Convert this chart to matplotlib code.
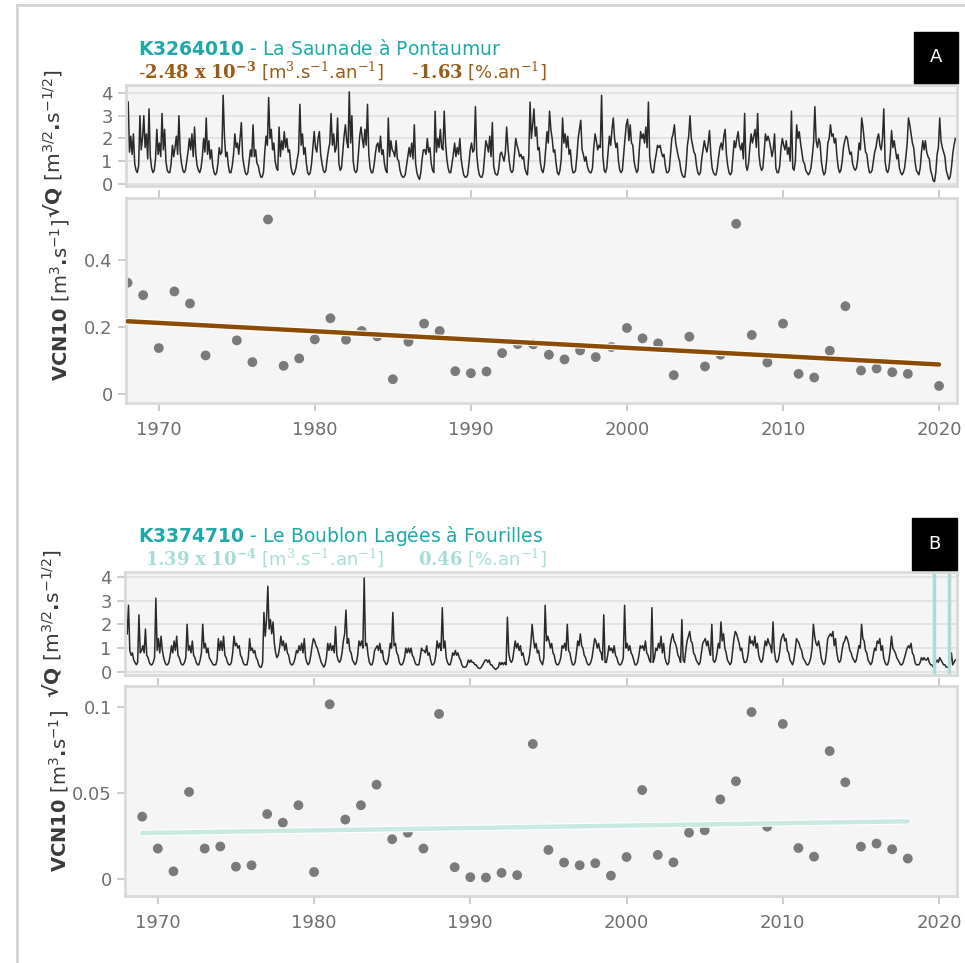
import matplotlib
matplotlib.use("Agg")
import matplotlib.pyplot as plt
from matplotlib import patheffects as pe
from matplotlib.lines import Line2D
from matplotlib.patches import Rectangle

# ---- data ----
# monthly sqrt(Q) values, one row per year from 1968 (last row = early 2021)
sqrtq_a = [
    [3.6, 1.4, 2.1, 1.3, 2.2, 0.9, 0.6, 0.5, 0.8, 3.0, 1.5, 2.0],
    [3.0, 1.6, 2.2, 1.1, 3.3, 1.2, 0.7, 0.5, 0.6, 1.1, 2.4, 1.3],
    [1.8, 1.2, 3.1, 1.5, 2.4, 1.0, 0.6, 0.5, 0.5, 0.9, 1.7, 1.2],
    [1.6, 2.1, 1.3, 3.0, 1.4, 0.9, 0.6, 0.5, 0.6, 1.0, 1.4, 2.0],
    [1.5, 2.2, 1.2, 2.5, 1.3, 0.8, 0.6, 0.5, 0.7, 1.2, 2.0, 1.4],
    [2.9, 1.3, 1.9, 1.1, 1.5, 0.8, 0.5, 0.4, 0.5, 0.9, 1.6, 1.3],
    [1.4, 3.9, 2.1, 1.2, 1.4, 0.8, 0.5, 0.5, 0.8, 1.3, 2.2, 1.6],
    [1.8, 1.3, 2.0, 2.7, 1.2, 0.8, 0.5, 0.4, 0.5, 1.0, 1.5, 1.2],
    [2.6, 1.2, 1.5, 0.9, 0.8, 0.5, 0.3, 0.3, 0.5, 1.4, 2.1, 1.7],
    [3.8, 2.0, 2.4, 1.5, 1.8, 1.0, 0.7, 0.6, 2.5, 1.2, 1.9, 1.5],
    [2.3, 1.6, 2.0, 1.4, 1.5, 0.8, 0.5, 0.4, 0.5, 0.7, 1.1, 1.4],
    [3.5, 1.7, 2.2, 1.3, 1.6, 0.9, 0.5, 0.4, 0.5, 0.9, 1.6, 2.3],
    [1.6, 1.4, 2.0, 2.3, 1.3, 0.9, 0.6, 0.5, 0.6, 1.1, 1.5, 1.8],
    [3.1, 1.7, 2.2, 1.4, 1.6, 2.9, 0.9, 0.6, 0.7, 1.4, 2.1, 2.6],
    [1.9, 1.6, 4.05, 1.8, 3.0, 1.0, 0.6, 0.5, 0.6, 1.3, 2.1, 2.5],
    [2.0, 1.6, 2.4, 1.7, 3.5, 1.3, 0.7, 0.5, 0.5, 0.8, 1.3, 1.7],
    [1.8, 1.4, 2.1, 1.3, 1.5, 0.9, 0.6, 0.5, 2.9, 1.2, 1.9, 1.5],
    [1.4, 1.2, 1.9, 1.1, 1.0, 0.6, 0.4, 0.3, 0.3, 0.4, 0.8, 1.2],
    [1.6, 1.2, 1.8, 1.1, 2.6, 0.9, 0.5, 0.3, 0.2, 0.5, 1.1, 1.5],
    [1.5, 1.3, 2.0, 1.4, 1.6, 0.9, 0.6, 0.5, 3.2, 1.4, 2.0, 1.6],
    [2.4, 1.6, 1.5, 3.2, 1.8, 1.1, 0.7, 0.5, 0.5, 0.9, 1.3, 1.8],
    [1.2, 1.6, 1.3, 2.0, 1.1, 0.7, 0.4, 0.3, 0.3, 0.4, 0.9, 1.5],
    [1.8, 1.4, 1.5, 3.4, 1.3, 0.7, 0.4, 0.3, 0.3, 0.5, 1.2, 1.9],
    [1.7, 1.4, 2.1, 1.2, 2.7, 0.8, 0.5, 0.4, 0.4, 0.7, 1.3, 1.4],
    [1.2, 1.0, 1.4, 2.5, 1.6, 1.0, 0.6, 0.5, 0.6, 1.3, 2.0, 1.7],
    [1.5, 1.2, 1.3, 1.1, 1.2, 0.7, 0.5, 0.4, 1.2, 3.6, 2.0, 2.6],
    [3.3, 2.1, 2.5, 1.5, 1.6, 0.9, 0.6, 0.5, 0.8, 1.5, 2.3, 1.8],
    [3.2, 2.4, 2.0, 1.4, 1.5, 0.9, 0.5, 0.4, 0.6, 1.1, 2.9, 1.8],
    [2.2, 1.6, 2.1, 1.3, 1.5, 0.8, 0.5, 0.5, 0.6, 1.2, 2.0, 2.4],
    [2.8, 1.5, 1.3, 1.0, 1.2, 0.8, 0.6, 0.5, 0.5, 0.7, 1.6, 2.2],
    [1.9, 1.5, 1.7, 1.6, 3.9, 1.2, 0.6, 0.5, 0.7, 1.4, 2.1, 1.7],
    [2.4, 2.9, 2.0, 1.6, 1.8, 1.0, 0.6, 0.5, 0.6, 1.3, 2.0, 2.6],
    [2.85, 1.9, 2.6, 1.8, 1.7, 1.0, 0.7, 0.5, 0.6, 1.5, 2.3, 2.0],
    [2.2, 1.8, 2.5, 1.6, 3.6, 1.2, 0.7, 0.5, 0.5, 1.0, 1.3, 1.7],
    [1.6, 1.7, 1.4, 1.2, 1.3, 0.8, 0.5, 0.5, 0.6, 1.3, 2.0, 2.2],
    [2.6, 1.8, 1.5, 1.2, 1.0, 0.6, 0.4, 0.3, 0.3, 0.8, 1.7, 2.1],
    [3.0, 2.0, 1.7, 1.4, 1.3, 0.8, 0.5, 0.4, 0.5, 1.1, 1.5, 1.9],
    [1.6, 1.4, 1.8, 2.35, 1.3, 0.7, 0.5, 0.4, 0.4, 0.7, 1.2, 1.6],
    [1.8, 1.5, 2.1, 2.4, 1.3, 0.8, 0.5, 0.4, 0.5, 1.2, 1.9, 1.6],
    [2.0, 2.3, 1.7, 1.5, 1.8, 1.1, 3.1, 0.8, 0.6, 0.9, 1.6, 2.2],
    [1.8, 2.1, 2.4, 1.6, 3.1, 1.3, 0.8, 0.6, 0.7, 1.4, 2.2, 1.9],
    [2.1, 1.9, 1.6, 1.2, 1.5, 2.2, 0.7, 0.5, 0.5, 0.8, 1.6, 2.0],
    [1.7, 1.5, 1.9, 1.3, 1.6, 1.0, 3.2, 0.7, 0.6, 1.0, 2.6, 2.0],
    [2.3, 1.8, 1.4, 1.0, 0.9, 0.6, 0.5, 0.4, 0.5, 0.7, 1.2, 1.8],
    [3.4, 1.9, 1.6, 2.0, 1.8, 1.0, 0.6, 0.4, 0.5, 1.0, 1.8, 2.0],
    [2.6, 2.1, 2.2, 1.8, 2.0, 1.2, 0.7, 0.5, 0.6, 1.0, 1.6, 1.9],
    [2.1, 2.0, 1.6, 1.3, 1.4, 0.9, 0.7, 0.6, 0.7, 1.1, 1.8, 1.5],
    [2.9, 2.5, 1.9, 1.4, 1.3, 0.8, 0.5, 0.5, 0.6, 1.0, 1.4, 1.6],
    [2.0, 2.2, 1.7, 1.5, 2.0, 3.3, 1.0, 0.6, 0.5, 0.7, 1.3, 2.35],
    [1.6, 1.9, 1.5, 1.1, 1.3, 0.7, 0.5, 0.4, 0.5, 0.7, 1.2, 1.8],
    [2.9, 2.6, 2.2, 1.8, 1.6, 1.0, 0.6, 0.5, 0.4, 0.7, 1.4, 1.9],
    [1.5, 1.9, 1.4, 1.2, 1.1, 0.6, 0.4, 0.15, 0.1, 0.5, 1.3, 1.6],
    [2.9, 1.9, 1.6, 1.4, 1.2, 0.6, 0.4, 0.2, 0.3, 0.7, 1.3, 1.7],
    [2.0],
]
sqrtq_b = [
    [1.6, 2.8, 0.9, 0.7, 0.8, 0.5, 0.4, 0.3, 0.4, 2.4, 0.8, 0.9],
    [1.1, 0.8, 1.8, 0.7, 0.6, 0.4, 0.3, 0.3, 0.4, 0.6, 3.1, 0.9],
    [1.4, 0.8, 1.5, 0.9, 0.6, 0.4, 0.3, 0.3, 0.4, 0.7, 1.1, 0.8],
    [1.3, 0.9, 1.5, 0.7, 0.6, 0.4, 0.3, 0.3, 0.4, 0.6, 2.0, 0.9],
    [1.1, 0.8, 1.3, 0.7, 0.6, 0.4, 0.3, 0.3, 0.5, 0.8, 2.0, 1.0],
    [1.2, 0.8, 1.0, 0.6, 0.5, 0.4, 0.3, 0.3, 0.3, 0.5, 1.4, 0.9],
    [1.3, 0.9, 1.5, 0.7, 0.6, 0.4, 0.3, 0.3, 0.4, 0.8, 1.5, 1.1],
    [1.2, 1.0, 1.1, 0.7, 0.6, 0.4, 0.3, 0.3, 0.3, 0.6, 1.4, 0.9],
    [1.0, 0.8, 0.9, 0.6, 0.5, 0.3, 0.2, 0.2, 0.4, 2.5, 1.5, 2.2],
    [3.6, 1.8, 2.2, 1.6, 2.1, 1.2, 0.8, 0.6, 0.7, 1.0, 1.5, 1.1],
    [1.3, 0.9, 1.2, 0.8, 0.7, 0.4, 0.3, 0.3, 0.4, 0.6, 0.9, 0.8],
    [1.1, 0.9, 1.2, 0.8, 1.4, 0.6, 0.4, 0.3, 0.4, 0.7, 1.1, 1.4],
    [1.3, 1.1, 1.0, 0.8, 0.6, 0.4, 0.3, 0.2, 0.3, 0.6, 1.2, 0.9],
    [1.2, 0.9, 1.1, 0.8, 1.9, 0.7, 0.5, 0.4, 0.5, 0.8, 1.3, 1.6],
    [2.6, 1.2, 1.4, 0.9, 0.8, 0.5, 0.4, 0.3, 0.4, 0.7, 1.3, 1.1],
    [1.3, 1.0, 3.95, 1.1, 1.2, 0.7, 0.4, 0.3, 0.3, 0.5, 0.9, 1.0],
    [1.1, 0.9, 1.2, 0.8, 0.9, 0.5, 0.4, 0.3, 0.4, 0.7, 1.2, 1.0],
    [2.5, 1.1, 1.2, 0.8, 0.7, 0.4, 0.3, 0.3, 0.4, 0.6, 1.0, 0.8],
    [1.0, 0.8, 1.0, 0.7, 0.6, 0.4, 0.3, 0.3, 0.3, 0.6, 1.0, 0.9],
    [0.9, 0.8, 1.1, 0.7, 0.8, 0.5, 0.3, 0.3, 0.4, 0.7, 1.3, 1.0],
    [1.2, 0.9, 2.7, 1.0, 1.3, 0.6, 0.4, 0.3, 0.3, 0.5, 0.8, 0.7],
    [0.9, 0.7, 0.8, 0.6, 0.5, 0.3, 0.2, 0.2, 0.2, 0.3, 0.5, 0.4],
    [0.5, 0.4, 0.4, 0.3, 0.3, 0.2, 0.15, 0.15, 0.2, 0.3, 0.4, 0.5],
    [0.5, 0.4, 0.5, 0.3, 0.3, 0.2, 0.15, 0.1, 0.15, 0.2, 0.4, 0.3],
    [0.4, 0.3, 0.4, 0.3, 2.3, 0.8, 0.5, 0.4, 0.5, 0.9, 1.3, 1.0],
    [1.2, 0.9, 1.1, 0.7, 0.8, 0.5, 0.3, 0.3, 0.4, 0.7, 1.2, 2.0],
    [1.4, 1.0, 1.2, 0.8, 0.9, 0.5, 0.4, 0.3, 0.6, 2.8, 1.3, 1.5],
    [1.3, 1.0, 1.2, 0.8, 0.7, 0.4, 0.3, 0.3, 0.4, 0.6, 1.1, 1.0],
    [1.2, 0.9, 2.0, 0.9, 0.8, 0.5, 0.3, 0.3, 0.4, 0.8, 1.3, 1.1],
    [1.6, 1.1, 1.0, 0.7, 0.6, 0.4, 0.3, 0.3, 0.4, 0.6, 1.0, 1.4],
    [1.3, 1.0, 1.2, 0.9, 0.8, 0.5, 2.4, 0.4, 0.4, 0.7, 1.1, 0.9],
    [1.0, 0.8, 1.1, 0.7, 0.6, 0.4, 0.3, 0.3, 0.4, 0.6, 2.8, 1.0],
    [1.2, 0.9, 1.1, 0.8, 0.7, 0.5, 0.3, 0.3, 0.4, 0.7, 1.1, 1.0],
    [1.1, 0.9, 1.3, 0.8, 0.7, 0.5, 0.4, 2.7, 0.4, 0.6, 1.0, 0.9],
    [1.2, 1.0, 1.5, 0.8, 1.2, 0.6, 0.4, 0.3, 0.4, 1.1, 1.4, 1.6],
    [1.3, 1.2, 1.0, 0.7, 0.6, 0.4, 2.2, 0.5, 0.4, 0.9, 1.3, 1.5],
    [1.7, 1.3, 1.2, 0.8, 0.7, 0.5, 0.4, 0.3, 0.4, 0.8, 1.2, 1.3],
    [1.4, 1.1, 1.3, 0.9, 0.7, 2.0, 0.5, 0.4, 0.5, 0.8, 1.2, 1.0],
    [2.1, 1.3, 1.6, 1.0, 0.8, 0.5, 0.4, 0.3, 0.4, 0.9, 1.4, 1.7],
    [1.6, 1.4, 1.2, 0.9, 1.0, 0.6, 0.4, 0.4, 0.5, 0.8, 1.5, 1.2],
    [1.3, 1.1, 1.5, 1.0, 1.2, 0.7, 0.5, 0.4, 0.5, 0.9, 1.3, 1.1],
    [1.4, 1.2, 1.1, 0.8, 2.1, 0.9, 0.5, 0.4, 0.5, 0.8, 1.3, 1.5],
    [1.6, 1.3, 1.4, 0.9, 0.8, 0.5, 0.4, 0.3, 0.5, 0.9, 1.4, 1.3],
    [1.2, 1.0, 0.9, 0.6, 0.5, 0.4, 0.3, 0.3, 0.4, 0.6, 1.0, 2.0],
    [1.5, 1.2, 1.1, 1.3, 1.0, 0.6, 0.4, 0.3, 0.4, 0.8, 1.4, 1.5],
    [1.6, 1.5, 1.7, 1.1, 1.4, 0.8, 0.5, 0.4, 0.5, 0.9, 1.2, 1.3],
    [1.5, 1.4, 1.2, 0.9, 0.8, 0.6, 0.5, 0.4, 0.5, 0.8, 1.1, 1.0],
    [2.0, 1.4, 1.3, 0.9, 0.8, 0.5, 0.4, 0.3, 0.4, 0.7, 1.0, 0.9],
    [1.3, 1.2, 1.4, 0.9, 1.1, 0.6, 0.4, 0.3, 0.3, 0.5, 0.9, 1.5],
    [1.0, 0.9, 0.8, 0.6, 0.5, 0.4, 0.3, 0.3, 0.4, 0.6, 0.8, 1.0],
    [1.1, 1.0, 1.2, 0.8, 0.7, 0.4, 0.3, 0.3, 0.3, 0.4, 0.6, 0.5],
    [0.6, 0.5, 0.5, 0.6, 0.4, 0.3, 0.3, 0.2, 0.3, 0.4, 0.5, 0.4],
    [0.6, 0.5, 0.4, 0.3, 0.3, 0.2, 0.2, 0.2, 0.3, 0.8, 0.3, 0.4],
    [0.5],
]

# VCN10 yearly values
years_a = [1968, 1969, 1970, 1971, 1972, 1973, 1975, 1976, 1977, 1978, 1979,
           1980, 1981, 1982, 1983, 1984, 1985, 1986, 1987, 1988, 1989, 1990,
           1991, 1992, 1993, 1994, 1995, 1996, 1997, 1998, 1999, 2000, 2001,
           2002, 2003, 2004, 2005, 2006, 2007, 2008, 2009, 2010, 2011, 2012,
           2013, 2014, 2015, 2016, 2017, 2018, 2020]
vcn_a = [0.332, 0.295, 0.137, 0.306, 0.27, 0.115, 0.16, 0.095, 0.521, 0.084,
         0.106, 0.163, 0.226, 0.162, 0.188, 0.172, 0.044, 0.156, 0.21, 0.188,
         0.068, 0.062, 0.067, 0.122, 0.149, 0.148, 0.117, 0.103, 0.13, 0.11,
         0.14, 0.197, 0.166, 0.151, 0.056, 0.171, 0.082, 0.117, 0.508, 0.176,
         0.094, 0.21, 0.06, 0.049, 0.129, 0.262, 0.07, 0.076, 0.065, 0.06,
         0.024]
years_b = list(range(1969, 2019))
vcn_b = [0.0363, 0.0178, 0.0046, 0.0506, 0.0178, 0.019, 0.0073, 0.0081,
         0.0378, 0.0328, 0.0429, 0.0042, 0.1014, 0.0346, 0.0429, 0.0548,
         0.0232, 0.027, 0.0178, 0.0958, 0.007, 0.0012, 0.001, 0.0037, 0.0024,
         0.0784, 0.017, 0.0097, 0.0081, 0.0093, 0.0021, 0.0129, 0.0517,
         0.0141, 0.0098, 0.027, 0.0284, 0.0463, 0.0568, 0.0969, 0.0305, 0.09,
         0.0181, 0.0131, 0.0743, 0.0562, 0.0189, 0.0207, 0.0174, 0.012]

# trend lines (end points)
trend_a_years = [1968, 2020]
trend_a_vals = [0.217, 0.088]
trend_b_years = [1969, 2018]
trend_b_vals = [0.0268, 0.0336]

# gaps marked on station B
gaps_b = [2019.7, 2020.65]

W, H = 965, 963
fig = plt.figure(figsize=(W / 100, H / 100), dpi=100)

TICK_COL = "#6e6e6e"
SPINE_COL = "#d9d9d9"
TEAL = "#1fa8a8"
BROWN = "#9b5a16"
LTEAL = "#a6ddd6"
LAB_COL = "#3a3a3a"


def rect(x0, y0, x1, y1):
    # pixel box -> figure fraction
    return [x0 / W, 1 - y1 / H, (x1 - x0) / W, (y1 - y0) / H]


def style(ax):
    ax.set_facecolor("#f5f5f5")
    for s in ax.spines.values():
        s.set_color(SPINE_COL)
        s.set_linewidth(2)
    ax.tick_params(axis="both", labelsize=13, labelcolor=TICK_COL,
                   color="#c4c4c4", width=1.2, length=6)
    ax.set_xlim(1967.9, 2021.15)


def monthly(rows):
    t, v = [], []
    for i, row in enumerate(rows):
        for m, val in enumerate(row):
            t.append(1968 + i + (m + 0.5) / 12)
            v.append(val)
    return t, v


def station(top_box, bot_box, rows, yrs, vals, tr_x, tr_y, tr_col,
            yticks, ylabels, ylim_top, ylim_bot, top_lab_y, gaps=None):
    axt = fig.add_axes(rect(*top_box))
    axb = fig.add_axes(rect(*bot_box))
    style(axt)
    style(axb)

    t, v = monthly(rows)
    axt.plot(t, v, color="#2a2a2a", lw=1.1)
    if gaps:
        for g in gaps:
            axt.axvline(g, color="#a9dcd9", lw=2.5)
    axt.set_ylim(*ylim_top)
    axt.set_yticks([0, 1, 2, 3, 4])
    axt.set_yticklabels(["0", "1", "2", "3", "4"])
    axt.yaxis.grid(True, color="#e3e3e3", lw=1.5)
    axt.set_axisbelow(True)
    axt.tick_params(axis="x", bottom=False, labelbottom=False)

    axb.scatter(yrs, vals, s=50, color="#7a7a7a", edgecolors="none", zorder=2)
    axb.plot(tr_x, tr_y, color=tr_col, lw=3.2, zorder=3,
             solid_capstyle="round",
             path_effects=[pe.withStroke(linewidth=4.8, foreground="white")])
    axb.set_ylim(*ylim_bot)
    axb.set_yticks(yticks)
    axb.set_yticklabels(ylabels)
    axb.set_xticks([1970, 1980, 1990, 2000, 2010, 2020])
    axb.tick_params(axis="x", top=True, bottom=True, pad=7)

    # rotated axis titles
    axb.text(-0.079, 0.5, r"VCN10 $\mathrm{[m^{3}}$.$\mathrm{s^{-1}]}$",
             transform=axb.transAxes, rotation=90, ha="center", va="center",
             fontsize=14, fontweight="bold", color=LAB_COL)
    axt.text(-0.088, top_lab_y, r"√Q $\mathrm{[m^{3/2}}$.$\mathrm{s^{-1/2}]}$",
             transform=axt.transAxes, rotation=90, ha="center", va="center",
             fontsize=14.5, fontweight="bold", color=LAB_COL, clip_on=False)
    return axt, axb


station((126, 85, 957, 186), (126, 198, 957, 403),
        sqrtq_a, years_a, vcn_a, trend_a_years, trend_a_vals,
        "#8c4b04", [0, 0.2, 0.4], ["0", "0.2", "0.4"],
        (-0.09, 4.35), (-0.027, 0.585), 0.42)
station((125, 572, 957, 675), (125, 686, 957, 896),
        sqrtq_b, years_b, vcn_b, trend_b_years, trend_b_vals,
        "#c7e9e2", [0, 0.05, 0.1], ["0", "0.05", "0.1"],
        (-0.13, 4.2), (-0.0097, 0.112), 0.5, gaps=gaps_b)

# titles
fig.text(138 / W, 1 - 55 / H, r"$\mathbf{K3264010}$ - La Saunade à Pontaumur",
         color=TEAL, fontsize=13.5, va="baseline")
fig.text(138 / W, 1 - 78 / H,
         r"-$\mathbf{2.48\ x\ 10^{-3}}$ [m$^{3}$.s$^{-1}$.an$^{-1}$]     "
         r"-$\mathbf{1.63}$ [%.an$^{-1}$]",
         color=BROWN, fontsize=13, va="baseline", math_fontfamily="dejavuserif")
fig.text(138 / W, 1 - 542 / H,
         r"$\mathbf{K3374710}$ - Le Boublon Lagées à Fourilles",
         color=TEAL, fontsize=13.5, va="baseline")
fig.text(145 / W, 1 - 565 / H,
         r"$\mathbf{1.39\ x\ 10^{-4}}$ [m$^{3}$.s$^{-1}$.an$^{-1}$]      "
         r"$\mathbf{0.46}$ [%.an$^{-1}$]",
         color=LTEAL, fontsize=13, va="baseline", math_fontfamily="dejavuserif")

# A / B tags
for lab, (x0, y0, x1, y1) in [("A", (914, 32, 958, 83)),
                              ("B", (912, 518, 957, 570))]:
    fig.patches.append(Rectangle((x0 / W, 1 - y1 / H), (x1 - x0) / W,
                                 (y1 - y0) / H, transform=fig.transFigure,
                                 color="black"))
    fig.text((x0 + x1) / 2 / W, 1 - (y0 + y1) / 2 / H, lab, color="white",
             fontsize=13, ha="center", va="center")

# frame lines of the page
fig.add_artist(Line2D([17 / W, 17 / W], [0, 1 - 5 / H], color="#d4d4d4", lw=2))
fig.add_artist(Line2D([17 / W, 1], [1 - 5 / H, 1 - 5 / H], color="#d4d4d4", lw=2))

fig.savefig("out.png", dpi=100)
